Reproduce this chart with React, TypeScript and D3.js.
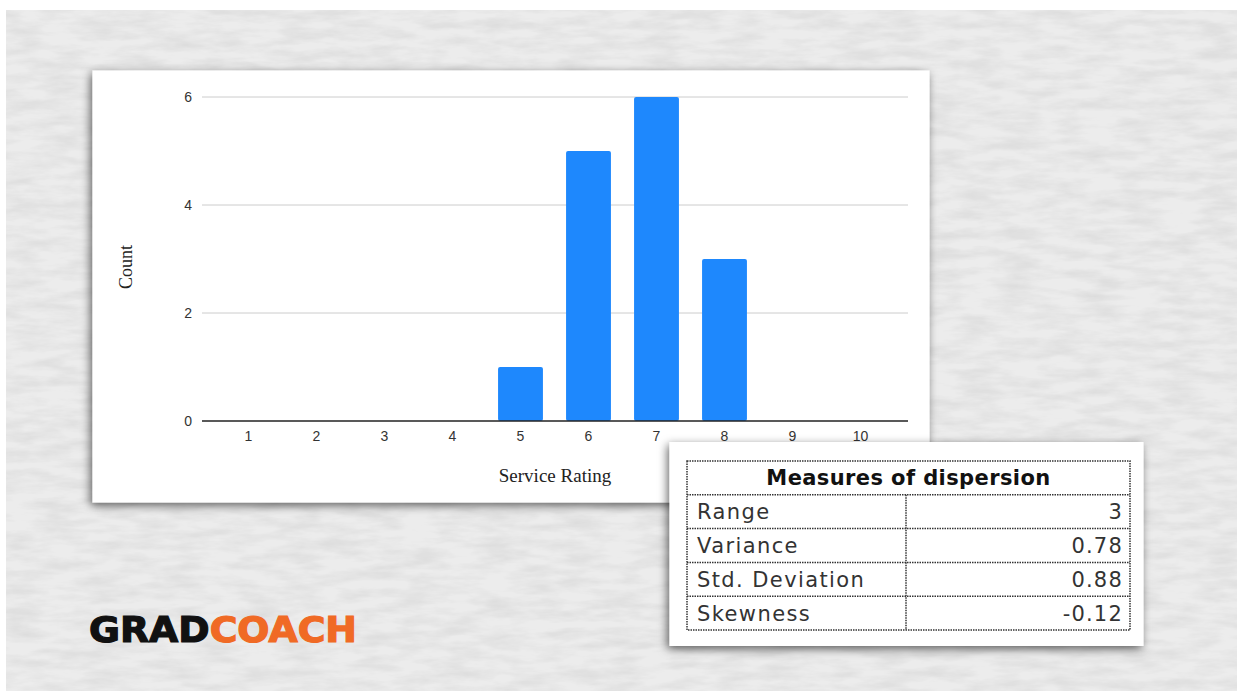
import React from "react";
import * as d3 from "d3";

const ratings = ["1", "2", "3", "4", "5", "6", "7", "8", "9", "10"];
const counts = [0, 0, 0, 0, 1, 5, 6, 3, 0, 0];
const yTicks = [0, 2, 4, 6];
const measureNames = ["Range", "Variance", "Std. Deviation", "Skewness"];
const measureValues = ["3", "0.78", "0.88", "-0.12"];

const W = 1237;
const H = 691;

export default function App() {
  const x = d3.scaleBand<string>().domain(ratings).range([214.5, 894.5]).paddingInner(0.34).paddingOuter(0.17);
  const y = d3.scaleLinear().domain([0, 6]).range([421, 97]);
  const gridX0 = 202;
  const gridX1 = 908;

  const tX0 = 687, tX1 = 1130, tDiv = 906;
  const rowY = d3.scaleLinear().domain([0, 5]).range([461, 630]);

  return (
    <svg width={W} height={H} style={{ position: "fixed", left: 0, top: 0 }} xmlns="http://www.w3.org/2000/svg">
      <defs>
        <filter id="paper" x="0" y="0" width="100%" height="100%">
          <feTurbulence type="fractalNoise" baseFrequency="0.025 0.1" numOctaves="4" seed="7" result="n" />
          <feColorMatrix in="n" type="matrix" values="0 0 0 0 0  0 0 0 0 0  0 0 0 0 0  0 0 0 0.9 -0.3" result="a" />
          <feComposite in="a" in2="SourceGraphic" operator="in" />
        </filter>
        <filter id="shadow" x="-10%" y="-10%" width="120%" height="125%">
          <feDropShadow dx="-2" dy="3" stdDeviation="5" floodColor="#000" floodOpacity="0.6" />
        </filter>
      </defs>
      <rect x={0} y={0} width={W} height={H} fill="#ffffff" />
      <rect x={6} y={10} width={W - 6} height={H - 10} fill="#ececec" />
      <rect x={6} y={10} width={W - 6} height={H - 10} fill="#ffffff" opacity={0.12} filter="url(#paper)" />

      {/* chart card */}
      <rect x={92.5} y={70.5} width={837} height={432} fill="#ffffff" filter="url(#shadow)" />
      {yTicks.map((t) => (
        <g key={t}>
          {t !== 0 && <line x1={gridX0} x2={gridX1} y1={y(t)} y2={y(t)} stroke="#cccccc" strokeWidth={1} />}
          <text x={192} y={y(t) + 5} textAnchor="end" fontFamily="Liberation Sans, Arial, sans-serif" fontSize={14} fill="#333">
            {t}
          </text>
        </g>
      ))}
      {ratings.map((r, i) => (
        <rect key={r} x={x(r)} y={y(counts[i])} width={x.bandwidth()} height={y(0) - y(counts[i])} rx={2} fill="#1e88fd" />
      ))}
      <line x1={gridX0} x2={gridX1} y1={y(0)} y2={y(0)} stroke="#222" strokeWidth={1.3} />
      {ratings.map((r) => (
        <text key={r} x={(x(r) as number) + x.bandwidth() / 2} y={441} textAnchor="middle" fontFamily="Liberation Sans, Arial, sans-serif" fontSize={14} fill="#333">
          {r}
        </text>
      ))}
      <text x={555} y={482} textAnchor="middle" fontFamily="Liberation Serif, Times New Roman, serif" fontSize={19} fill="#222">
        Service Rating
      </text>
      <text transform="translate(132,267) rotate(-90)" textAnchor="middle" fontFamily="Liberation Serif, Times New Roman, serif" fontSize={18} fill="#222">
        Count
      </text>

      {/* table card */}
      <rect x={669.5} y={442} width={474} height={204} fill="#ffffff" filter="url(#shadow)" />
      <g stroke="#333" strokeWidth={1.5} strokeDasharray="1.5 1" fill="none">
        <rect x={tX0} y={rowY(0)} width={tX1 - tX0} height={rowY(5) - rowY(0)} />
        {[1, 2, 3, 4].map((k) => (
          <line key={k} x1={tX0} x2={tX1} y1={rowY(k)} y2={rowY(k)} />
        ))}
        <line x1={tDiv} x2={tDiv} y1={rowY(1)} y2={rowY(5)} />
      </g>
      <text x={(tX0 + tX1) / 2} y={(rowY(0) + rowY(1)) / 2 + 7.5} textAnchor="middle" fontFamily="DejaVu Sans, sans-serif" fontWeight="bold" fontSize={21} letterSpacing={0.4} fill="#111">
        Measures of dispersion
      </text>
      {measureNames.map((m, i) => (
        <g key={m}>
          <text x={tX0 + 10} y={(rowY(i + 1) + rowY(i + 2)) / 2 + 7.5} fontFamily="DejaVu Sans, sans-serif" fontSize={21} letterSpacing={1.4} fill="#333">
            {m}
          </text>
          <text x={tX1 - 7} y={(rowY(i + 1) + rowY(i + 2)) / 2 + 7.5} textAnchor="end" fontFamily="DejaVu Sans, sans-serif" fontSize={21} letterSpacing={1.2} fill="#333">
            {measureValues[i]}
          </text>
        </g>
      ))}

      {/* logo */}
      <text x={89} y={642} fontFamily="DejaVu Sans, sans-serif" fontWeight="bold" fontSize={35} textLength={268} lengthAdjust="spacingAndGlyphs" strokeWidth={1.2}>
        <tspan fill="#111" stroke="#111">GRAD</tspan>
        <tspan fill="#f06a25" stroke="#f06a25">COACH</tspan>
      </text>
    </svg>
  );
}
